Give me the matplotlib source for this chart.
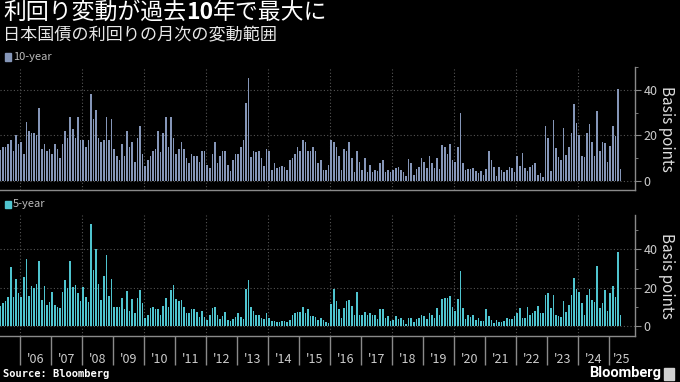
import numpy as np
import matplotlib
matplotlib.use('Agg')
import matplotlib.pyplot as plt
from matplotlib.patches import Rectangle

plt.rcParams['font.family'] = ['Noto Sans CJK JP', 'DejaVu Sans']

# monthly range in bp, May 2005 - May 2025
ten_year = [
    13.7, 15, 15, 16, 18, 13, 20, 16, 17, 12,
    26, 22, 21, 21, 20, 32, 14, 16, 13, 14,
    12, 16, 14, 10, 16, 22, 19, 28, 23, 19,
    28, 18, 18, 15, 18, 38, 27, 31, 19, 17,
    18, 28, 18, 27, 14, 11, 9, 16, 11, 22,
    15, 17, 8.5, 19, 24, 12, 6.6, 9, 11, 13,
    14, 22,
    12.5, 21, 28, 15, 28, 19, 12, 14, 17, 14,
    10, 8, 12, 11, 11, 8.5, 13, 13, 7, 5.6,
    12, 17, 8, 11, 13, 13, 7, 4.3, 9, 12,
    12, 15, 18, 34, 45, 10.5, 13, 12.5, 13, 10,
    6.6, 14, 13, 4.8, 8, 5.6, 6.2, 6.6, 6, 4.8,
    9, 10, 12, 15, 13, 18, 17, 13, 13, 15,
    13,
    8, 9, 4.8, 4.8, 6.8, 18, 17, 15, 11, 4.8,
    14, 13, 17, 10, 3.8, 13, 8.5, 5, 10, 3.8,
    7, 3.8, 4.8, 4.3, 8, 9, 3.8, 4.8, 3.8, 4.8,
    5.6, 6.2, 4.8, 3.8, 2.3, 9.4, 8, 2.7, 5.2, 6.2,
    10, 8.5, 5.6, 11, 8, 5.6, 10, 5.2, 15.7, 15,
    12, 16, 9, 8.5, 15, 30, 8, 4.8, 5.2, 5.2,
    5.6,
    4.3, 3.3, 4.2, 2.7, 5.2, 13, 9, 6.2, 2.3, 6,
    4.8, 3.8, 4.8, 6.2, 5.6, 3.8, 11, 6.6, 12.3, 5.6,
    4.3, 6, 7, 8, 2.7, 3.3, 1.7, 24, 18.8, 4.3,
    26.8, 14.3, 10.4, 9, 23.4, 11.4, 14.9, 21, 33.6, 25.4,
    20.2, 11, 10.4, 21, 25, 17.2, 10.8, 30.7, 13.3, 17.2,
    16.7, 8.5, 15.3, 24, 19.6, 40.3, 5.2,
]

five_year = [
    10.6, 12, 13, 15, 31, 15, 24.4, 17, 15, 25.4,
    35, 15.6, 20.8, 20, 22, 33.7, 13.5, 20.8, 11, 12.3,
    17.5, 11.2, 10, 9.3, 18, 24, 20, 33.7, 20.4, 21.5,
    17, 13, 20.4, 15, 12.3, 53, 29.4, 40, 22, 13.5,
    26, 37, 15.6, 24.4, 10, 10, 10, 14.5, 8.8, 18.5,
    8, 14, 7, 14.5, 18.7, 12, 4.2, 6, 9.5, 10,
    8.8, 8.8,
    6, 10.7, 14.4, 10, 18.7, 21.5, 14.2, 13, 13.5, 10,
    6.6, 6.6, 8.7, 8.7, 7.3, 4.7, 8, 4.7, 3, 6,
    9.3, 10, 6, 3.6, 5.4, 7.3, 3, 2.6, 3.8, 4.7,
    6.6, 4.7, 3.6, 19.5, 24.2, 10, 8, 6, 6, 4.2,
    3.8, 6.6, 4.2, 2.6, 2.6, 1.9, 2.2, 2.6, 2.6, 2.2,
    3.1, 6, 6.6, 7.3, 7.3, 10, 7, 8.7, 5, 5,
    4.5,
    3, 4.2, 3, 1.9, 1.4, 11.4, 19.2, 13, 8.7, 4.2,
    9.3, 13, 13.7, 10.6, 6, 17.5, 6, 6, 7.3, 6,
    6.6, 6, 6, 3.6, 8.7, 8.7, 4.2, 5, 2.6, 3,
    5, 3.6, 4.2, 3, 1, 4.2, 4.2, 1.9, 3.6, 4.2,
    6, 5, 3.6, 6.6, 6, 4.2, 9.3, 6, 14.2, 14.4,
    14.4, 15.4, 10, 7.6, 14.2, 28.9, 9.3, 3.6, 5.5, 4.7,
    6,
    3, 4.2, 2.6, 2.6, 8.7, 5, 3, 1.4, 3, 2.2,
    2.2, 2.6, 4.2, 3.8, 3.8, 5.4, 7, 9.3, 4.2, 4.2,
    10, 6, 6.6, 8, 10.6, 6.6, 6.6, 16, 17, 9.3,
    16.4, 6, 5.4, 4.7, 13, 7.3, 11, 16.4, 25, 19.4,
    17.5, 11.8, 6, 16.4, 19.2, 13.7, 12.3, 31.5, 9.4, 12.2,
    18.8, 8, 17.4, 21, 15, 38.6, 5.6,
]

years = list(range(2006, 2026))
year_labels = ["'%02d" % (y % 100) for y in years]

x = np.arange(len(ten_year))
first_jan = 8  # Jan 2006 is the 9th month in the series
seps = [first_jan - 0.5 + 12 * k for k in range(len(years))]
xmax = 245.6
centers = [s + 6 for s in seps[:-1]] + [(seps[-1] + xmax) / 2]

W, H = 680, 382
fig = plt.figure(figsize=(6.8, 3.82), dpi=100, facecolor='black')

def fx(px):
    return px / W

def fy(py):
    return 1 - py / H

ax1 = fig.add_axes([0, fy(190), fx(635), (190 - 67) / H])
ax2 = fig.add_axes([0, fy(336), fx(635), (336 - 215) / H])

panels = [(ax1, ten_year, '#8596b8', (-4, 49.6)),
          (ax2, five_year, '#4fc4cf', (-5.2, 57.9))]
for ax, vals, col, yl in panels:
    ax.set_facecolor('black')
    ax.bar(x, vals, width=0.62, color=col, zorder=3)
    ax.set_xlim(-0.2, xmax)
    ax.set_ylim(*yl)
    ax.yaxis.tick_right()
    ax.set_yticks([0, 20, 40])
    ax.set_yticks([10, 30, 50], minor=True)
    ax.grid(axis='y', which='major', linestyle=(0, (1, 2)), color='#555555', lw=0.8, zorder=1)
    for s in seps[::2]:
        ax.axvline(s, linestyle=(0, (1, 2)), color='#555555', lw=0.8, zorder=1)
    for side in ['left', 'top']:
        ax.spines[side].set_visible(False)
    for side in ['right', 'bottom']:
        ax.spines[side].set_color('#8a8a8a')
        ax.spines[side].set_linewidth(1.0)
    ax.tick_params(axis='y', which='major', colors='#8a8a8a', labelcolor='#cccccc',
                   labelsize=9, length=4, pad=2)
    ax.tick_params(axis='y', which='minor', colors='#8a8a8a', length=2.5)

ax1.set_xticks([])

ax2.set_xticks(seps)
ax2.set_xticklabels([])
ax2.set_xticks(centers, minor=True)
ax2.set_xticklabels(year_labels, minor=True)
ax2.tick_params(axis='x', which='major', length=21, color='#8a8a8a', width=1.0)
ax2.tick_params(axis='x', which='minor', length=0, pad=12, labelsize=9, labelcolor='#cccccc')

# y axis titles
for yc in [129, 276]:
    fig.text(fx(666), fy(yc), 'Basis points', rotation=270, ha='center', va='center',
             fontsize=11, color='#dddddd')

# title (with bold "10")
t1 = fig.text(fx(3), fy(24), '利回り変動が過去', fontsize=16.5, color='white', va='bottom')
t2 = ax1.annotate('10', xy=(1, 0), xycoords=t1, va='bottom', ha='left', fontsize=16.5,
                  color='white', fontweight='bold', annotation_clip=False)
t3 = ax1.annotate('年で最大に', xy=(1, 0), xycoords=t2, va='bottom', ha='left', fontsize=16.5,
                  color='white', annotation_clip=False)
fig.text(fx(3), fy(35), '日本国債の利回りの月次の変動範囲', fontsize=12.3, color='#e8e8e8',
         va='center')

# legends
for yc, col, lab in [(57, '#8596b8', '10-year'), (204, '#4fc4cf', '5-year')]:
    fig.patches.append(Rectangle((fx(5), fy(yc + 3.5)), fx(6), 7 / H, color=col,
                                 transform=fig.transFigure, figure=fig))
    fig.text(fx(13), fy(yc), lab, fontsize=8, color='#bbbbbb', va='center')

# footer
fig.text(fx(3), fy(374), 'Source: Bloomberg', fontsize=7.5, color='white', va='center',
         family='DejaVu Sans Mono', fontweight='bold')
fig.text(fx(661), fy(373), 'Bloomberg', fontsize=10.5, color='white', va='center', ha='right',
         family='Roboto', fontweight='bold')
fig.patches.append(Rectangle((fx(664), fy(380)), fx(10), 12 / H, color='#d0d0d0',
                             transform=fig.transFigure, figure=fig))

fig.savefig('out.png', dpi=100, facecolor='black')
